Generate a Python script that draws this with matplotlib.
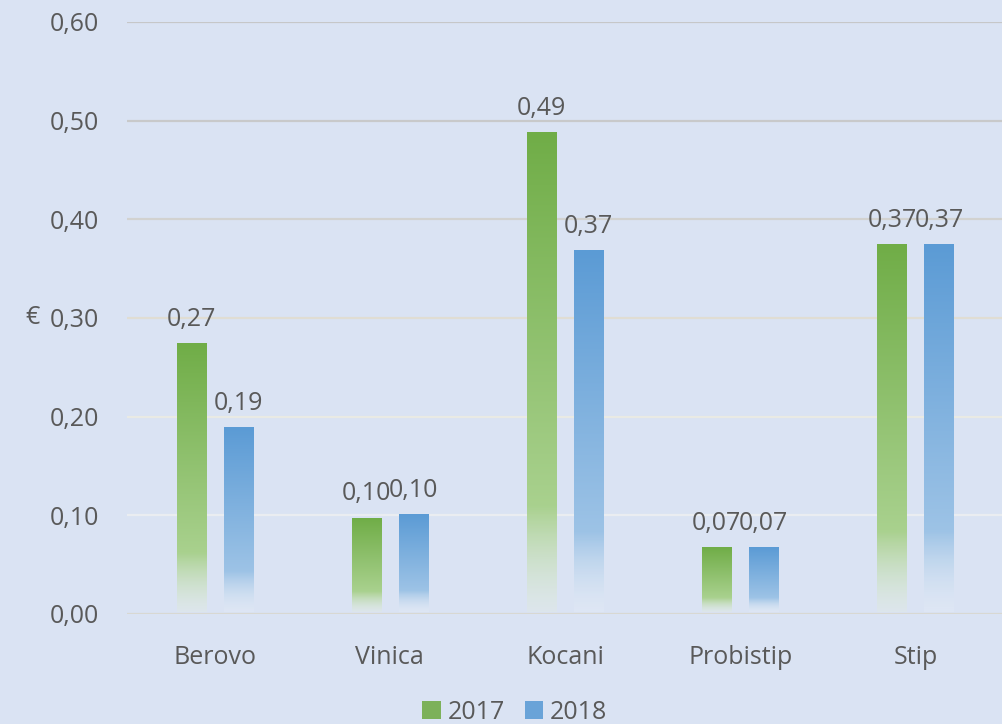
import numpy as np
import matplotlib.pyplot as plt
from matplotlib.colors import LinearSegmentedColormap
from matplotlib.patches import Patch

plt.rcParams['font.family'] = ['Open Sans', 'DejaVu Sans']

towns = ['Berovo', 'Vinica', 'Kocani', 'Probistip', 'Stip']
y2017 = [0.274, 0.097, 0.488, 0.067, 0.374]
y2018 = [0.189, 0.101, 0.368, 0.067, 0.374]
labels2017 = ['0,27', '0,10', '0,49', '0,07', '0,37']
labels2018 = ['0,19', '0,10', '0,37', '0,07', '0,37']
yticks = [0.0, 0.1, 0.2, 0.3, 0.4, 0.5, 0.6]

bg = '#dae3f3'
txt = '#595959'
fs = 18
# gridline colours go from whitish at the bottom to grey at the top
grid_cols = ['#d8d8d2', '#eaedf1', '#e9eae4', '#e0ddd3', '#d2d2d0', '#c8c9ca', '#c6c7c8']

def fade_cmap(top, mid, bottom):
    # 0 = bottom of bar, 1 = top of bar
    return LinearSegmentedColormap.from_list('f', [
        (0.0, bottom + (0.35,)),
        (0.22, mid + (1.0,)),
        (1.0, top + (1.0,)),
    ])

def hx(c):
    c = c.lstrip('#')
    return tuple(int(c[i:i + 2], 16) / 255 for i in (0, 2, 4))

green = fade_cmap(hx('70ad47'), hx('a9d18e'), hx('e2ecdf'))
blue = fade_cmap(hx('5b9bd5'), hx('9dc3e6'), hx('e6edf7'))

fig = plt.figure(figsize=(10.03, 7.24), dpi=100)
fig.patch.set_facecolor(bg)
ax = fig.add_axes([127 / 1003, 110 / 724, 876 / 1003, 592 / 724])
ax.set_facecolor(bg)

x = np.arange(len(towns))
w = 0.166
off = 0.134
grad = np.linspace(0, 1, 256).reshape(-1, 1)

for t, c in zip(yticks, grid_cols):
    ax.axhline(t, color=c, linewidth=1.6, zorder=1)

for vals, labs, cm, sign in [(y2017, labels2017, green, -1), (y2018, labels2018, blue, 1)]:
    for xi, v, lab in zip(x, vals, labs):
        xc = xi + sign * off
        ax.imshow(grad, cmap=cm, aspect='auto', origin='lower',
                  extent=(xc - w / 2, xc + w / 2, 0.002, v), zorder=3,
                  interpolation='bilinear')
        ax.text(xc, v + 0.012, lab, ha='center', va='bottom', fontsize=fs, color=txt, zorder=4)

ax.set_xlim(-0.5, len(towns) - 0.5)
ax.set_ylim(0, 0.6)

ax.set_yticks(yticks)
ax.set_yticklabels([f'{t:.2f}'.replace('.', ',') for t in yticks])
ax.set_xticks(x)
ax.set_xticklabels(towns)
ax.tick_params(length=0, labelsize=fs, colors=txt)
ax.tick_params(axis='y', pad=20)
ax.tick_params(axis='x', pad=22)
for s in ax.spines.values():
    s.set_visible(False)

ax.set_ylabel('€', rotation=0, fontsize=fs, color=txt, va='center')
ax.yaxis.set_label_coords(-0.108, 0.5)

handles = [Patch(facecolor='#7cb15a', label='2017'), Patch(facecolor='#69a3d8', label='2018')]
fig.legend(handles=handles, loc='lower center', bbox_to_anchor=(0.513, -0.032), ncol=2,
           frameon=False, fontsize=fs, labelcolor=txt, handlelength=0.75, handleheight=0.75,
           handletextpad=0.25, columnspacing=0.8)

fig.savefig('out.png', dpi=100, facecolor=bg)
